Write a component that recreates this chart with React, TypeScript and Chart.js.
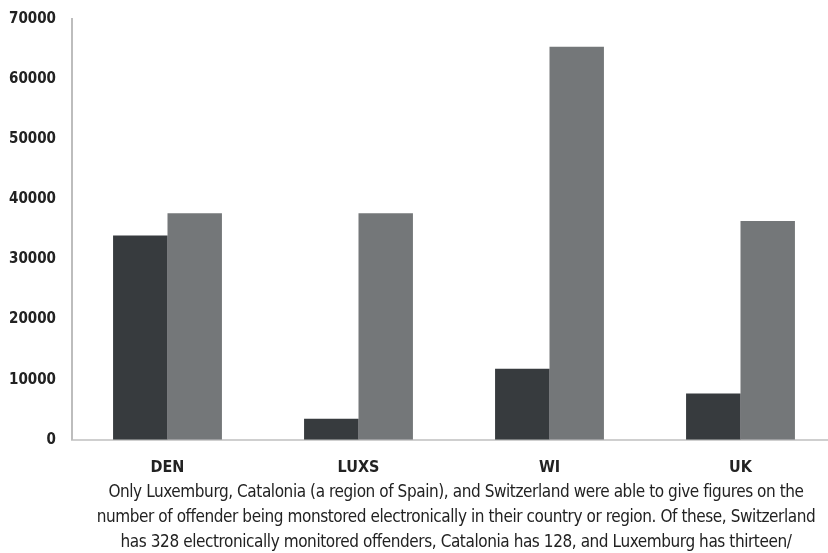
import React, { useEffect, useRef } from "react";
import { Chart, registerables } from "chart.js";

Chart.register(...registerables);

const categories = ["DEN", "LUXS", "WI", "UK"];
const seriesDark = [34000, 3500, 11800, 7700];
const seriesGray = [37700, 37700, 65400, 36400];
const yTicks = [0, 10000, 20000, 30000, 40000, 50000, 60000, 70000];
const captionLines = [
  "Only Luxemburg, Catalonia (a region of Spain), and Switzerland were able to give figures on the",
  "number of offender being monstored electronically in their country or region. Of these, Switzerland",
  "has 328 electronically monitored offenders, Catalonia has 128, and Luxemburg has thirteen/",
];

const FONT = "'Liberation Sans Narrow', 'DejaVu Sans Condensed', 'Roboto', sans-serif";

export default function App() {
  const ref = useRef<HTMLCanvasElement>(null);
  useEffect(() => {
    if (!ref.current) return;
    const chart = new Chart(ref.current, {
      type: "bar",
      data: {
        labels: categories,
        datasets: [
          { label: "A", data: seriesDark, backgroundColor: "#373b3e", borderWidth: 0 },
          { label: "B", data: seriesGray, backgroundColor: "#747779", borderWidth: 0 },
        ],
      },
      options: {
        animation: false,
        responsive: false,
        maintainAspectRatio: false,
        layout: { padding: { top: 3, left: 0, right: 0, bottom: 0 } },
        datasets: { bar: { categoryPercentage: 0.57, barPercentage: 1 } },
        plugins: { legend: { display: false }, tooltip: { enabled: false }, title: { display: false } },
        scales: {
          x: {
            grid: { display: false, drawTicks: false },
            border: { display: true, color: "#cfcfcf", width: 2 },
            ticks: { color: "#222", font: { family: FONT, size: 16, weight: "bold" }, padding: 18 },
          },
          y: {
            min: 0,
            max: 70000,
            afterBuildTicks: (axis: any) => {
              axis.ticks = yTicks.map((v) => ({ value: v }));
            },
            grid: { display: false, drawTicks: false },
            border: { display: true, color: "#bdbdbd", width: 2 },
            ticks: {
              color: "#222",
              font: { family: FONT, size: 15, weight: "bold" },
              padding: 16,
              callback: (v: any) => String(v),
            },
            afterFit: (axis: any) => {
              axis.width = 72;
            },
          },
        },
      },
    });
    return () => chart.destroy();
  }, []);
  return (
    <div style={{ position: "fixed", left: 0, top: 0, width: 828, height: 553, overflow: "hidden", background: "#fff" }}>
      <canvas
        ref={ref}
        width={836}
        height={501}
        style={{ display: "block", width: 836, height: 501, position: "absolute", left: 0, top: -6 }}
      />
      <div
        style={{
          position: "absolute",
          left: 72,
          top: 479,
          width: 768,
          textAlign: "center",
          fontFamily: FONT,
          fontSize: 17,
          letterSpacing: "-0.42px",
          lineHeight: "25px",
          color: "#222",
        }}
      >
        {captionLines.map((l, i) => (
          <div key={i}>{l}</div>
        ))}
      </div>
    </div>
  );
}
